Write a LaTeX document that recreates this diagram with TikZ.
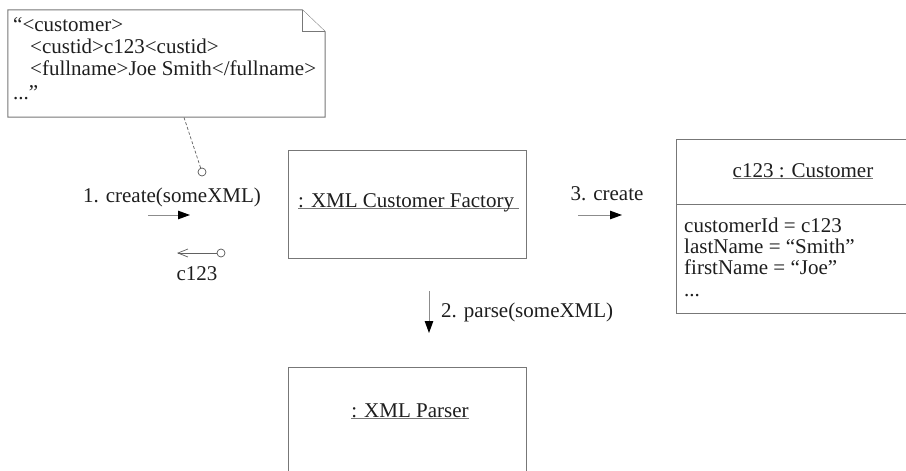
\documentclass[tikz,border=0pt]{standalone}
\usepackage{fontspec}
\setmainfont{Liberation Serif}
\usetikzlibrary{arrows.meta,calc}
\definecolor{boxgray}{HTML}{777777}
\definecolor{linegray}{HTML}{8C8C8C}
\definecolor{txt}{HTML}{1E1E1E}
\newcommand{\myul}[2][2pt]{\setbox0\hbox{#2}\rlap{\color{boxgray}\rule[-#1]{\wd0}{0.9pt}}\box0}
\begin{document}
\begin{tikzpicture}[x=1pt,y=-1pt,
  every node/.style={font=\fontsize{21}{22}\selectfont, text=txt, inner sep=0pt},
  box/.style={draw=boxgray, line width=1pt, fill=white},
  objbox/.style={box, rectangle},
  msg/.style={draw=linegray, line width=0.9pt, -{Triangle[length=12pt,width=8.5pt,color=black]}},
  ret/.style={draw=txt!70, line width=0.7pt, {Straight Barb[length=10pt,width=8pt]}-},
  lollipop/.style={circle, draw=txt!75, line width=0.7pt, fill=white, minimum size=8pt, inner sep=0pt},
  anchorline/.style={draw=txt!70, line width=0.7pt, dashed, dash pattern=on 3pt off 2pt},
]
\clip (0,0) rectangle (906,471);
\fill[white] (0,0) rectangle (906,471);

% note
\node[minimum width=317pt, minimum height=107pt] (note) at (166.5,63.5) {};
\draw[box] (note.north west) -- ($(note.north east)+(-23,0)$) -- ($(note.north east)+(0,22)$) -- (note.south east) -- (note.south west) -- cycle;
\draw[box] ($(note.north east)+(-23,0)$) |- ($(note.north east)+(0,22)$);
\node[anchor=base west] (noteA) at (13,31) {“<customer>};
\node[anchor=base west] (noteB) at (30,53) {<custid>c123<custid>};
\node[anchor=base west] (noteC) at (30,75) {<fullname>Joe Smith</fullname>};
\node[anchor=base west] (noteD) at (13,99) {...”};

% factory box
\node[objbox, minimum width=238pt, minimum height=108pt] (factory) at (407,204) {};
\node[anchor=base west] (factoryLabel) at (298,207) {\myul[1.8pt]{: XML Customer Factory\ }};

% customer box
\node[objbox, minimum width=252pt, minimum height=174pt] (customer) at (802,226) {};
\draw[box] (676,204) -- (928,204);
\node[anchor=base] (customerLabel) at (803,177) {\myul[2pt]{c123 : Customer}};
\node[anchor=base west] (attrA) at (684,232) {customerId = c123};
\node[anchor=base west] (attrB) at (684,253) {lastName = “Smith”};
\node[anchor=base west] (attrC) at (684,274) {firstName = “Joe”};
\node[anchor=base west] (attrD) at (684,296) {...};

% parser box
\node[objbox, minimum width=238pt, minimum height=110pt] (parser) at (407,422) {};
\node[anchor=base] (parserLabel) at (410,417) {\myul[2pt]{: XML Parser}};

% message 1
\coordinate (nb) at (184,117.5);
\node[lollipop] (c1) at (202,172) {};
\draw[anchorline] (nb) -- (c1);
\node[anchor=base] (m1) at (172,202) {1. create(someXML)};
\coordinate (m1a) at (148,215);
\coordinate (m1b) at (190,215);
\draw[msg] (m1a) -- (m1b);

% return
\node[lollipop] (c2) at (221,253) {};
\coordinate (r1) at (177,253);
\draw[ret] (r1) -- (c2);
\node[anchor=base] (rlabel) at (197,280) {c123};

% message 3
\node[anchor=base] (m3) at (607,200) {3. create};
\coordinate (m3a) at (578,215);
\coordinate (m3b) at (622,215);
\draw[msg] (m3a) -- (m3b);

% message 2
\coordinate (m2a) at (429,291);
\coordinate (m2b) at (429,333);
\draw[msg] (m2a) -- (m2b);
\node[anchor=base west] (m2) at (441,317) {2. parse(someXML)};
\end{tikzpicture}
\end{document}
